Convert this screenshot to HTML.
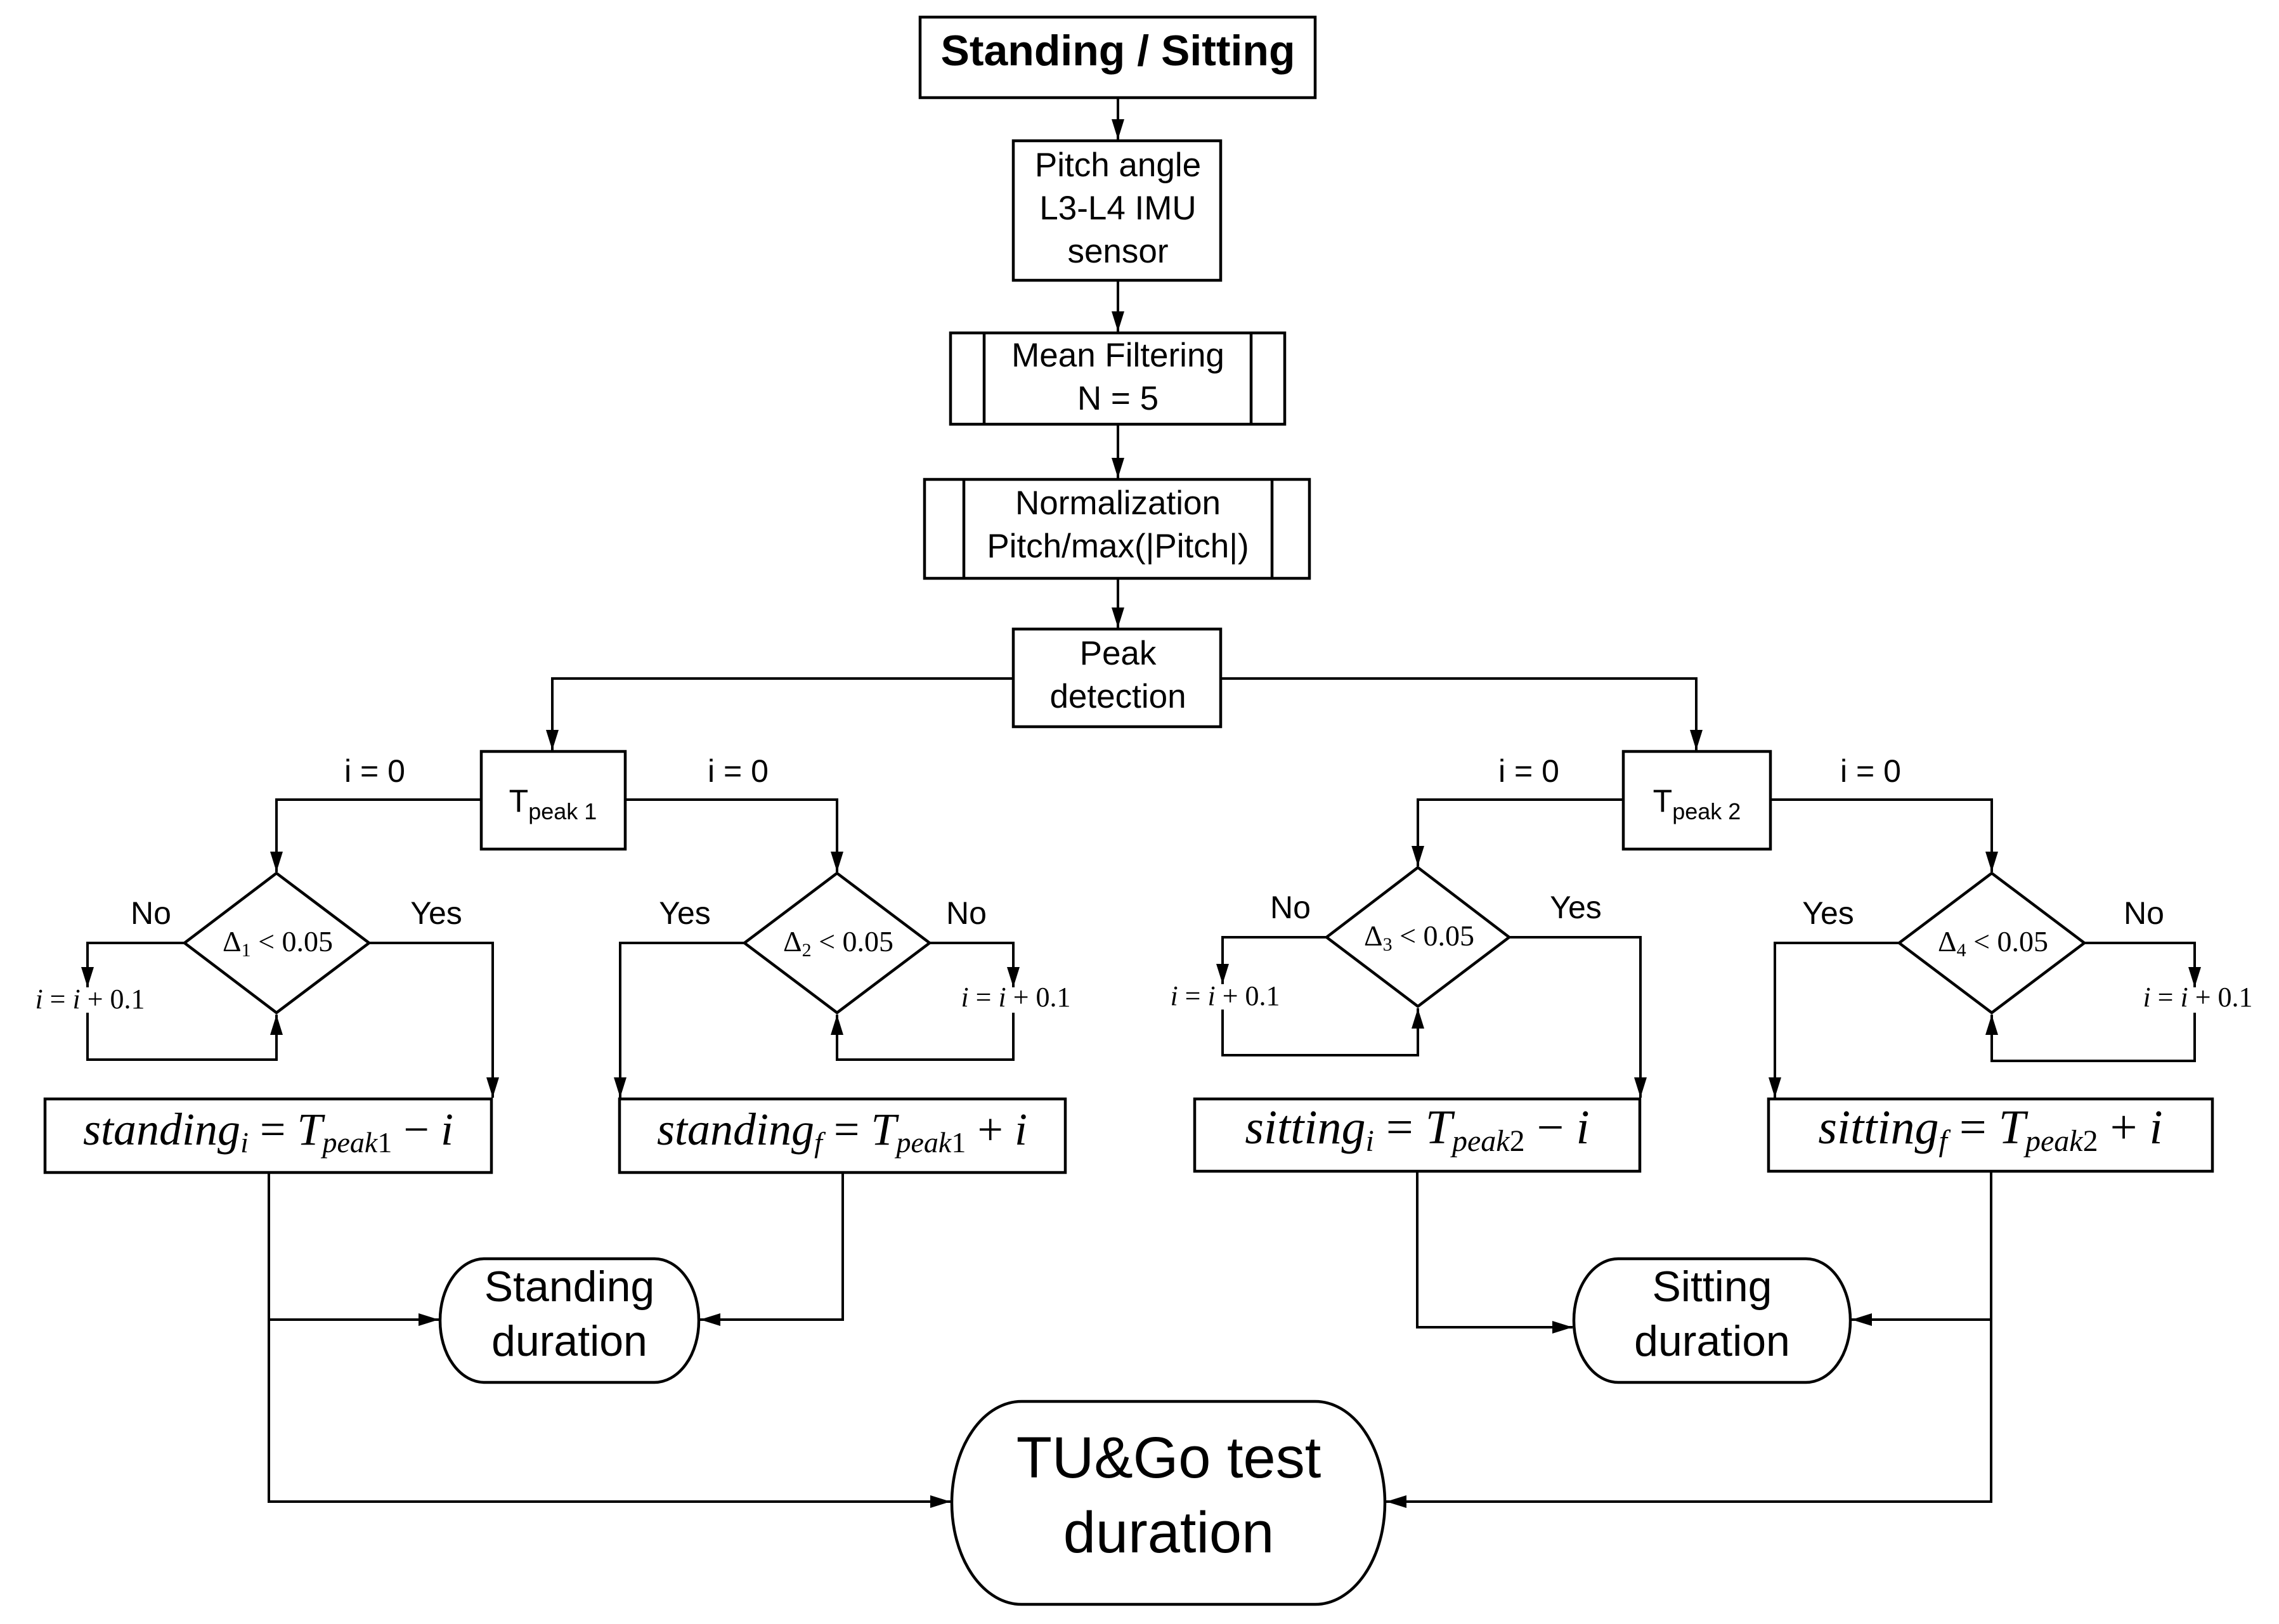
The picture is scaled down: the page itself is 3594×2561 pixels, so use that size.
<!DOCTYPE html>
<html><head><meta charset="utf-8"><style>
html,body{margin:0;padding:0;background:#fff;}
svg{display:block;}
.s{font-family:"Liberation Sans",sans-serif;fill:#000;}
.m{font-family:"Liberation Serif",serif;fill:#000;font-style:italic;}
.n{font-family:"Liberation Serif",serif;fill:#000;}
</style></head><body>
<svg width="3594" height="2561" viewBox="0 0 3594 2561" xmlns="http://www.w3.org/2000/svg">
<defs>
<marker id="a" markerWidth="34" markerHeight="22" refX="32" refY="10" orient="auto" markerUnits="userSpaceOnUse">
<path d="M0,0 L32,10 L0,20 z" fill="#000"/>
</marker>
</defs>
<g fill="none" stroke="#000" stroke-width="4.5">
<rect x="1451" y="27" width="623" height="127"/>
<rect x="1598" y="222" width="327" height="220"/>
<rect x="1499" y="525" width="527" height="144"/>
<line x1="1552" y1="525" x2="1552" y2="669"/><line x1="1973" y1="525" x2="1973" y2="669"/>
<rect x="1458" y="756" width="607" height="156"/>
<line x1="1520" y1="756" x2="1520" y2="912"/><line x1="2006" y1="756" x2="2006" y2="912"/>
<rect x="1598" y="992" width="327" height="154"/>
<rect x="759" y="1185" width="227" height="154"/>
<rect x="2560" y="1185" width="232" height="154"/>
<polygon points="436,1377 582,1487 436,1597 291,1487"/>
<polygon points="1320,1377 1466,1487 1320,1597 1174,1487"/>
<polygon points="2236,1368 2380,1478 2236,1587 2092,1478"/>
<polygon points="3141,1377 3287,1487 3141,1597 2995,1487"/>
<rect x="71" y="1733" width="704" height="116"/>
<rect x="977" y="1733" width="703" height="116"/>
<rect x="1884" y="1733" width="702" height="114"/>
<rect x="2789" y="1733" width="700" height="114"/>
<rect x="694" y="1985" width="408" height="195" rx="70" ry="97"/>
<rect x="2482" y="1985" width="436" height="195" rx="70" ry="97"/>
<rect x="1501" y="2210" width="683" height="320" rx="110" ry="160"/>
</g>
<g fill="none" stroke="#000" stroke-width="4">
<line x1="1763" y1="154" x2="1763" y2="220" marker-end="url(#a)"/>
<line x1="1763" y1="442" x2="1763" y2="523" marker-end="url(#a)"/>
<line x1="1763" y1="669" x2="1763" y2="754" marker-end="url(#a)"/>
<line x1="1763" y1="912" x2="1763" y2="990" marker-end="url(#a)"/>
<polyline points="1598,1070 871,1070 871,1183" marker-end="url(#a)"/>
<polyline points="1925,1070 2675,1070 2675,1183" marker-end="url(#a)"/>
<polyline points="759,1261 436,1261 436,1375" marker-end="url(#a)"/>
<polyline points="986,1261 1320,1261 1320,1375" marker-end="url(#a)"/>
<polyline points="2560,1261 2236,1261 2236,1366" marker-end="url(#a)"/>
<polyline points="2792,1261 3141,1261 3141,1375" marker-end="url(#a)"/>
<polyline points="291,1487 138,1487 138,1557" marker-end="url(#a)"/>
<polyline points="138,1597 138,1671 436,1671 436,1600" marker-end="url(#a)"/>
<polyline points="582,1487 777,1487 777,1731" marker-end="url(#a)"/>
<polyline points="1174,1487 978,1487 978,1731" marker-end="url(#a)"/>
<polyline points="1466,1487 1598,1487 1598,1557" marker-end="url(#a)"/>
<polyline points="1598,1597 1598,1671 1320,1671 1320,1600" marker-end="url(#a)"/>
<polyline points="2092,1478 1928,1478 1928,1552" marker-end="url(#a)"/>
<polyline points="1928,1592 1928,1664 2236,1664 2236,1590" marker-end="url(#a)"/>
<polyline points="2380,1478 2587,1478 2587,1731" marker-end="url(#a)"/>
<polyline points="2995,1487 2799,1487 2799,1731" marker-end="url(#a)"/>
<polyline points="3287,1487 3461,1487 3461,1557" marker-end="url(#a)"/>
<polyline points="3461,1597 3461,1673 3141,1673 3141,1600" marker-end="url(#a)"/>
<polyline points="424,1849 424,2368 1499,2368" marker-end="url(#a)"/>
<polyline points="424,2081 692,2081" marker-end="url(#a)"/>
<polyline points="1329,1849 1329,2081 1104,2081" marker-end="url(#a)"/>
<polyline points="2235,1847 2235,2093 2480,2093" marker-end="url(#a)"/>
<polyline points="3140,1847 3140,2368 2186,2368" marker-end="url(#a)"/>
<polyline points="3140,2081 2920,2081" marker-end="url(#a)"/>
</g>
<g text-anchor="middle">
<text class="s" x="1763" y="103" font-size="68" font-weight="bold">Standing / Sitting</text>
<text class="s" x="1763" y="278" font-size="53">Pitch angle</text>
<text class="s" x="1763" y="346" font-size="53">L3-L4 IMU</text>
<text class="s" x="1763" y="414" font-size="53">sensor</text>
<text class="s" x="1763" y="578" font-size="53">Mean Filtering</text>
<text class="s" x="1763" y="646" font-size="53">N = 5</text>
<text class="s" x="1763" y="811" font-size="53">Normalization</text>
<text class="s" x="1763" y="879" font-size="53">Pitch/max(|Pitch|)</text>
<text class="s" x="1763" y="1048" font-size="53">Peak</text>
<text class="s" x="1763" y="1116" font-size="53">detection</text>
<text class="s" x="872" y="1280" font-size="50">T<tspan font-size="36" dy="12">peak 1</tspan></text>
<text class="s" x="2676" y="1280" font-size="50">T<tspan font-size="36" dy="12">peak 2</tspan></text>
<text class="s" x="591" y="1233" font-size="50">i = 0</text>
<text class="s" x="1164" y="1233" font-size="50">i = 0</text>
<text class="s" x="2411" y="1233" font-size="50">i = 0</text>
<text class="s" x="2950" y="1233" font-size="50">i = 0</text>
<text class="s" x="238" y="1457" font-size="50">No</text>
<text class="s" x="688" y="1457" font-size="50">Yes</text>
<text class="s" x="1080" y="1457" font-size="50">Yes</text>
<text class="s" x="1524" y="1457" font-size="50">No</text>
<text class="s" x="2035" y="1448" font-size="50">No</text>
<text class="s" x="2485" y="1448" font-size="50">Yes</text>
<text class="s" x="2883" y="1457" font-size="50">Yes</text>
<text class="s" x="3381" y="1457" font-size="50">No</text>
<text class="n" x="438" y="1500" font-size="46">Δ<tspan font-size="30" dy="8">1</tspan><tspan dy="-8"> &lt; 0.05</tspan></text>
<text class="n" x="1322" y="1500" font-size="46">Δ<tspan font-size="30" dy="8">2</tspan><tspan dy="-8"> &lt; 0.05</tspan></text>
<text class="n" x="2238" y="1491" font-size="46">Δ<tspan font-size="30" dy="8">3</tspan><tspan dy="-8"> &lt; 0.05</tspan></text>
<text class="n" x="3143" y="1500" font-size="46">Δ<tspan font-size="30" dy="8">4</tspan><tspan dy="-8"> &lt; 0.05</tspan></text>
<text class="n" x="142" y="1590" font-size="44"><tspan font-style="italic">i</tspan> = <tspan font-style="italic">i</tspan> + 0.1</text>
<text class="n" x="1602" y="1587" font-size="44"><tspan font-style="italic">i</tspan> = <tspan font-style="italic">i</tspan> + 0.1</text>
<text class="n" x="1932" y="1585" font-size="44"><tspan font-style="italic">i</tspan> = <tspan font-style="italic">i</tspan> + 0.1</text>
<text class="n" x="3466" y="1587" font-size="44"><tspan font-style="italic">i</tspan> = <tspan font-style="italic">i</tspan> + 0.1</text>
<text class="m" x="423" y="1805" font-size="72">standing<tspan font-size="46" dy="12">i</tspan><tspan dy="-12" font-style="normal"> = </tspan>T<tspan font-size="46" dy="12">peak</tspan><tspan font-size="46" font-style="normal">1</tspan><tspan dy="-12" font-style="normal"> − </tspan>i</text>
<text class="m" x="1328" y="1805" font-size="72">standing<tspan font-size="46" dy="12">f</tspan><tspan dy="-12" font-style="normal"> = </tspan>T<tspan font-size="46" dy="12">peak</tspan><tspan font-size="46" font-style="normal">1</tspan><tspan dy="-12" font-style="normal"> + </tspan>i</text>
<text class="m" x="2235" y="1803" font-size="76">sitting<tspan font-size="48" dy="12">i</tspan><tspan dy="-12" font-style="normal"> = </tspan>T<tspan font-size="48" dy="12">peak</tspan><tspan font-size="48" font-style="normal">2</tspan><tspan dy="-12" font-style="normal"> − </tspan>i</text>
<text class="m" x="3139" y="1803" font-size="76">sitting<tspan font-size="48" dy="12">f</tspan><tspan dy="-12" font-style="normal"> = </tspan>T<tspan font-size="48" dy="12">peak</tspan><tspan font-size="48" font-style="normal">2</tspan><tspan dy="-12" font-style="normal"> + </tspan>i</text>
<text class="s" x="898" y="2052" font-size="68">Standing</text>
<text class="s" x="898" y="2138" font-size="68">duration</text>
<text class="s" x="2700" y="2052" font-size="68">Sitting</text>
<text class="s" x="2700" y="2138" font-size="68">duration</text>
<text class="s" x="1843" y="2330" font-size="92">TU&amp;Go test</text>
<text class="s" x="1843" y="2448" font-size="92">duration</text>
</g>
</svg>
</body></html>
